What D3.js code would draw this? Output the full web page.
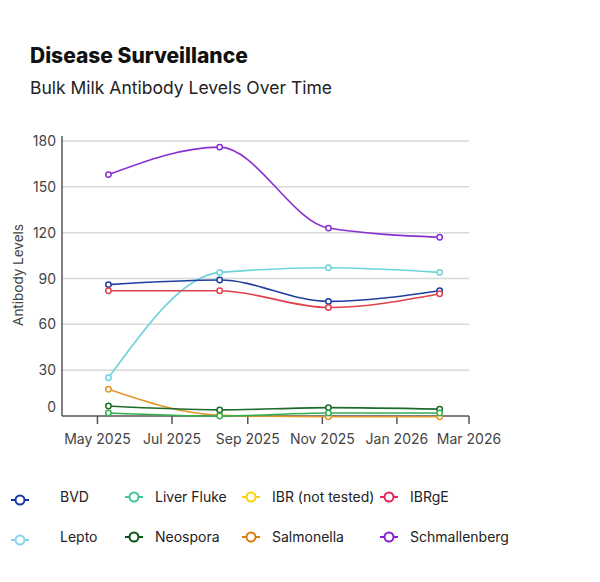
<!DOCTYPE html>
<html><head><meta charset="utf-8">
<script src="https://cdn.jsdelivr.net/npm/d3@7"></script>
<style>body{margin:0;background:#fff;font-family:Inter,"Open Sans",sans-serif}</style>
</head><body><svg id="chart" width="600" height="582"></svg>
<script>
var dates = ["2025-05-10", "2025-08-09", "2025-11-06", "2026-02-05"];
var seriesNames = ["BVD", "Liver Fluke", "IBR (not tested)", "IBRgE", "Lepto", "Neospora", "Salmonella", "Schmallenberg"];
var lineColors = ["#1f3fa0", "#33b04e", "#f2cf00", "#e0404a", "#6fd3dc", "#1e6b2a", "#e0962a", "#8a2fd0"];
var legendColors = ["#1a35a8", "#3ec59a", "#f5d20a", "#e8245a", "#85d4ea", "#0e5414", "#db7c0c", "#8a1ed8"];
var bvd = [86, 89, 75, 82];
var liverFluke = [2, 0, 2, 2];
var ibr = [];
var ibrge = [82, 82, 71, 80];
var lepto = [25, 94, 97, 94];
var neospora = [6.5, 4, 5.5, 4.5];
var salmonella = [17.5, 0.5, -0.5, -0.5];
var schmallenberg = [158, 176, 123, 117];
var yTicks = [0, 30, 60, 90, 120, 150, 180];
var xTicks = ["2025-05-01", "2025-07-01", "2025-09-01", "2025-11-01", "2026-01-01", "2026-03-01"];
var values = [bvd, liverFluke, ibr, ibrge, lepto, neospora, salmonella, schmallenberg];

var svg = d3.select('#chart');
var parse = d3.timeParse('%Y-%m-%d');
var x = d3.scaleTime().domain([parse("2025-04-02"), parse("2026-03-01")]).range([62, 469]);
var y = d3.scaleLinear().domain([0, 180]).range([416, 141]);

svg.append('text').attr('x', 30).attr('y', 63).text('Disease Surveillance')
  .style('font-size', '21px').style('font-weight', 800).attr('fill', '#111');
svg.append('text').attr('x', 30).attr('y', 94).text('Bulk Milk Antibody Levels Over Time')
  .style('font-size', '17.5px').attr('fill', '#222');

// grid
svg.selectAll('.grid').data(yTicks.filter(function (d) { return d > 0; })).enter().append('line')
  .attr('x1', 62).attr('x2', 469).attr('y1', y).attr('y2', y)
  .attr('stroke', '#d8d8d8').attr('stroke-width', 1.5);

svg.selectAll('.ylab').data(yTicks).enter().append('text')
  .attr('x', 56).attr('y', function (d) { return d === 0 ? y(d) - 4 : y(d) + 5; })
  .attr('text-anchor', 'end').text(String).style('font-size', '14px').attr('fill', '#444');

svg.append('line').attr('x1', 62).attr('x2', 62).attr('y1', 136).attr('y2', 416).attr('stroke', '#555').attr('stroke-width', 1.5);
svg.append('line').attr('x1', 62).attr('x2', 469).attr('y1', 416).attr('y2', 416).attr('stroke', '#555').attr('stroke-width', 1.5);

var fmt = d3.timeFormat('%b %Y');
xTicks.forEach(function (t) {
  var xx = x(parse(t));
  svg.append('line').attr('x1', xx).attr('x2', xx).attr('y1', 416).attr('y2', 424).attr('stroke', '#555').attr('stroke-width', 1.5);
  svg.append('text').attr('x', xx).attr('y', 444).attr('text-anchor', 'middle').text(fmt(parse(t)))
    .style('font-size', '14px').attr('fill', '#444');
});

svg.append('text').attr('transform', 'translate(23,275) rotate(-90)').attr('text-anchor', 'middle')
  .text('Antibody Levels').style('font-size', '13.5px').attr('fill', '#444');

var line = d3.line().x(function (d, i) { return x(parse(dates[i])); }).y(function (d) { return y(d); })
  .curve(d3.curveMonotoneX);

var drawOrder = [4, 0, 3, 7, 6, 5, 1];
drawOrder.forEach(function (s) {
  var v = values[s];
  svg.append('path').attr('d', line(v)).attr('fill', 'none').attr('stroke', lineColors[s]).attr('stroke-width', 1.6);
  svg.selectAll('.p' + s).data(v).enter().append('circle')
    .attr('cx', function (d, i) { return x(parse(dates[i])); }).attr('cy', y).attr('r', 2.7)
    .attr('fill', '#fff').attr('stroke', lineColors[s]).attr('stroke-width', 1.5);
});

// legend
var textX = [60, 155, 272, 410], rowY = [497, 537];
seriesNames.forEach(function (n, i) {
  var c = i % 4, r = Math.floor(i / 4);
  var ix = c === 0 ? 20 : textX[c] - 21, iy = rowY[r] + (c === 0 ? 3 : 0);
  var g = svg.append('g');
  g.append('line').attr('x1', ix - 9).attr('x2', ix + 9).attr('y1', iy).attr('y2', iy).attr('stroke', legendColors[i]).attr('stroke-width', 2);
  g.append('circle').attr('cx', ix).attr('cy', iy).attr('r', 4.5).attr('fill', '#fff').attr('stroke', legendColors[i]).attr('stroke-width', 2);
  svg.append('text').attr('x', textX[c]).attr('y', rowY[r] + 5).text(n).style('font-size', '14px').attr('fill', '#222');
});
</script></body></html>
